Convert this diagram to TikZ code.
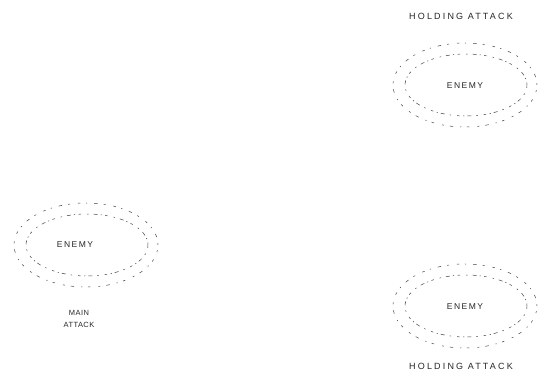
\documentclass[tikz,border=0pt]{standalone}
\usepackage{fontspec}
\setmainfont{Liberation Sans}
\usetikzlibrary{shapes.geometric}
\begin{document}
\begin{tikzpicture}[x=1pt,y=-1pt,
  ring/.style={ellipse, inner sep=0pt, draw=black!75, line width=0.5pt},
  outerring/.style={ring, minimum width=144pt, minimum height=84pt,
    dash pattern=on 2pt off 6pt on 3.5pt off 7pt on 1.2pt off 5.5pt on 2.5pt off 8pt},
  innerring/.style={ring, minimum width=122pt, minimum height=62pt,
    dash pattern=on 2.5pt off 3.5pt on 1.2pt off 3pt on 4pt off 5pt on 1.5pt off 6pt},
  enemylabel/.style={font=\fontsize{8.5}{10}\selectfont\addfontfeature{LetterSpace=18}, text=black!85},
  holdlabel/.style={font=\fontsize{9}{10}\selectfont\addfontfeature{LetterSpace=24}, text=black!85},
  mainlabel/.style={font=\fontsize{7.5}{11.5}\selectfont\addfontfeature{LetterSpace=6}, text=black!85, align=center}]
\useasboundingbox (0,0) rectangle (547,377);
% top right
\node[outerring] (o1) at (465,85) {};
\node[innerring] (i1) at (466,85) {};
\node[enemylabel] (e1) at (465,86) {ENEMY};
\node[holdlabel] (h1) at (461,16) {HOLDING ATTACK};
% left
\node[outerring] (o2) at (86,245) {};
\node[innerring] (i2) at (87,245) {};
\node[enemylabel] (e2) at (75,245) {ENEMY};
\node[mainlabel] (m2) at (79,319) {MAIN\\ATTACK};
% bottom right
\node[outerring] (o3) at (465,306) {};
\node[innerring] (i3) at (466,306) {};
\node[enemylabel] (e3) at (465,307) {ENEMY};
\node[holdlabel] (h3) at (461,366) {HOLDING ATTACK};
\end{tikzpicture}
\end{document}
